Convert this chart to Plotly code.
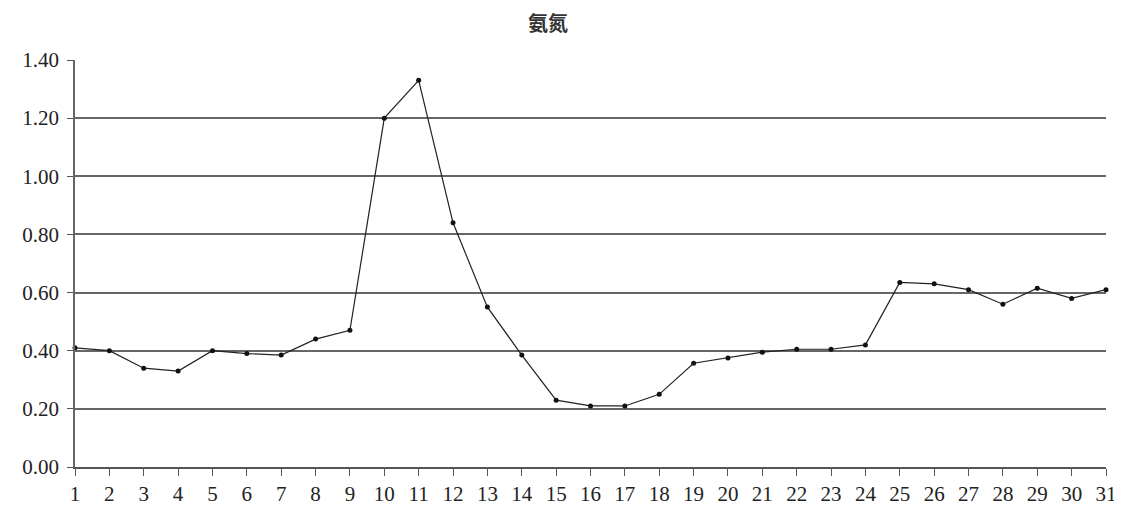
import plotly.graph_objects as go

days = list(range(1, 32))
ammonia = [0.41, 0.40, 0.34, 0.33, 0.40, 0.39, 0.385, 0.44, 0.47, 1.20,
           1.33, 0.84, 0.55, 0.385, 0.23, 0.21, 0.21, 0.25, 0.357, 0.375,
           0.395, 0.405, 0.405, 0.42, 0.635, 0.63, 0.61, 0.56, 0.615, 0.58, 0.61]
y_ticks = [0.0, 0.2, 0.4, 0.6, 0.8, 1.0, 1.2, 1.4]
y_tick_text = ["0.00", "0.20", "0.40", "0.60", "0.80", "1.00", "1.20", "1.40"]
title_text = "氨氮"

W, H = 1114, 500  # page body has an 8px margin

fig = go.Figure()
fig.add_trace(go.Scatter(
    x=days, y=ammonia, mode="lines+markers",
    line=dict(color="#222222", width=1.2),
    marker=dict(color="#111111", size=5),
    showlegend=False, cliponaxis=False,
))

serif = "Liberation Serif, Times New Roman, serif"
fig.update_layout(
    width=W, height=H,
    margin=dict(l=67, r=16, t=52, b=41, autoexpand=False),
    paper_bgcolor="white", plot_bgcolor="white",
    title=dict(text=title_text, x=540 / W, xref="container", xanchor="center",
               y=1 - 16 / H, yref="container", yanchor="middle",
               font=dict(family="Noto Sans CJK SC", size=20, color="#333333", weight=700)),
    xaxis=dict(
        range=[1, 31], tickmode="array", tickvals=days, ticktext=[str(d) for d in days],
        showgrid=False, zeroline=False, showline=True, linecolor="#555555", linewidth=1.5,
        ticks="outside", ticklen=7, tickwidth=1.2, tickcolor="#555555", automargin=False,
        tickfont=dict(family=serif, size=21, color="#222222"),
    ),
    yaxis=dict(
        range=[0, 1.4], tickmode="array", tickvals=y_ticks, ticktext=y_tick_text,
        showgrid=True, gridcolor="#666666", gridwidth=1.5, automargin=False,
        zeroline=False, showline=True, linecolor="#666666", linewidth=1.5,
        ticks="outside", ticklen=6, tickwidth=1.2, tickcolor="#555555",
        ticklabelstandoff=4,
        tickfont=dict(family=serif, size=21, color="#222222"),
    ),
)

fig.write_html("out.html")
